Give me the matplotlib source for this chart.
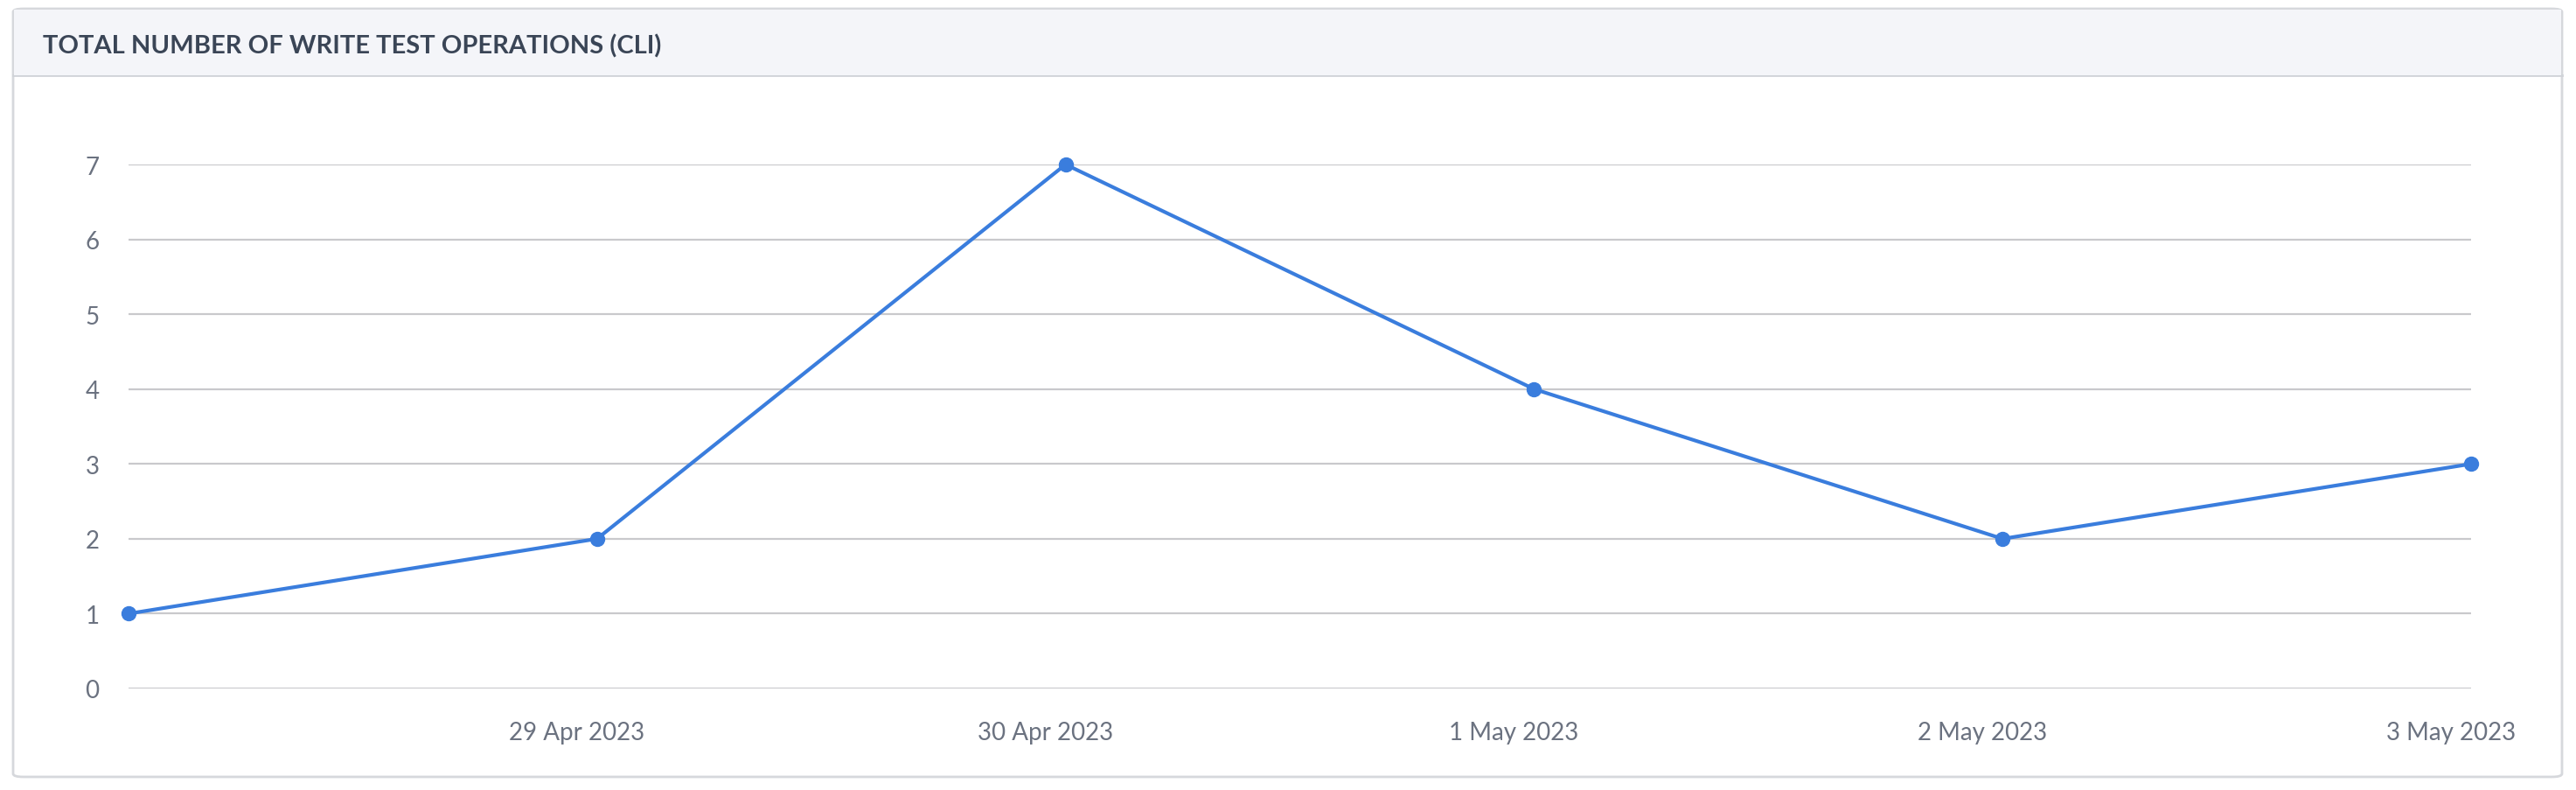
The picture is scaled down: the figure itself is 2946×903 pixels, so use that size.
import matplotlib
matplotlib.use("Agg")
import matplotlib.pyplot as plt
from matplotlib.patches import FancyBboxPatch, Rectangle
from matplotlib.transforms import ScaledTranslation
from datetime import datetime

# ---- data ----
dates = ["2023-04-28", "2023-04-29", "2023-04-30", "2023-05-01", "2023-05-02", "2023-05-03"]
values = [1, 2, 7, 4, 2, 3]
tick_labels = ["29 Apr 2023", "30 Apr 2023", "1 May 2023", "2 May 2023", "3 May 2023"]
y_ticks = [0, 1, 2, 3, 4, 5, 6, 7]
title = "TOTAL NUMBER OF WRITE TEST OPERATIONS (CLI)"

W, H = 2946, 904
DPI = 100
fig = plt.figure(figsize=(W / DPI, H / DPI), dpi=DPI)
fig.patch.set_facecolor("white")

def fx(px):
    return px / W

def fy(py):
    return 1 - py / H

# card
card_l, card_t, card_r, card_b = 15, 11, 2930, 889
header_b = 87
card = FancyBboxPatch((fx(card_l), fy(card_b)), fx(card_r - card_l), (card_b - card_t) / H,
                      boxstyle="round,pad=0,rounding_size=0.004", transform=fig.transFigure,
                      facecolor="white", edgecolor="#d6d8dc", linewidth=2, zorder=-2)
fig.patches.append(card)
header = Rectangle((fx(card_l + 1), fy(header_b)), fx(card_r - card_l - 2), (header_b - card_t - 1) / H,
                   transform=fig.transFigure, facecolor="#f4f5f9", edgecolor="none", zorder=-1)
fig.patches.append(header)
fig.add_artist(plt.Line2D([fx(card_l), fx(card_r)], [fy(header_b), fy(header_b)],
                          transform=fig.transFigure, color="#d0d3d8", linewidth=2, zorder=-1))
fig.text(fx(49), fy(53), title, ha="left", va="center", fontsize=21,
         fontfamily="Lato", fontweight="bold", color="#3a4556", zorder=3)

# axes
ax_l, ax_r, ax_top, ax_bot = 147, 2826, 189, 788
ax = fig.add_axes([fx(ax_l), fy(ax_bot), fx(ax_r - ax_l), (ax_bot - ax_top) / H])
ax.set_zorder(5)
ax.set_facecolor("none")

x = [datetime.strptime(d, "%Y-%m-%d") for d in dates]
ax.plot(x, values, color="#3a7ddd", linewidth=3, marker="o", markersize=11.5,
        markerfacecolor="#3a7ddd", markeredgecolor="#3a7ddd", zorder=3, clip_on=False)

ax.set_xlim(x[0], x[-1])
ax.set_ylim(0, 7)
ax.set_yticks(y_ticks)
ax.set_yticklabels([str(v) for v in y_ticks])
ax.set_xticks(x[1:])
ax.set_xticklabels(tick_labels)
ax.grid(axis="y", color="#c9c9cc", linewidth=1.6)
ax.grid(axis="x", visible=False)
for s in ax.spines.values():
    s.set_visible(False)
ax.tick_params(axis="both", length=0, labelsize=20, labelcolor="#6b7280")
ax.tick_params(axis="y", pad=24)
ax.tick_params(axis="x", pad=27)
for lbl in ax.get_xticklabels() + ax.get_yticklabels():
    lbl.set_fontfamily("Lato")
offset = ScaledTranslation(-23 / DPI, 0, fig.dpi_scale_trans)
for lbl in ax.get_xticklabels():
    lbl.set_transform(lbl.get_transform() + offset)

fig.savefig("out.png", dpi=DPI, facecolor="white")
